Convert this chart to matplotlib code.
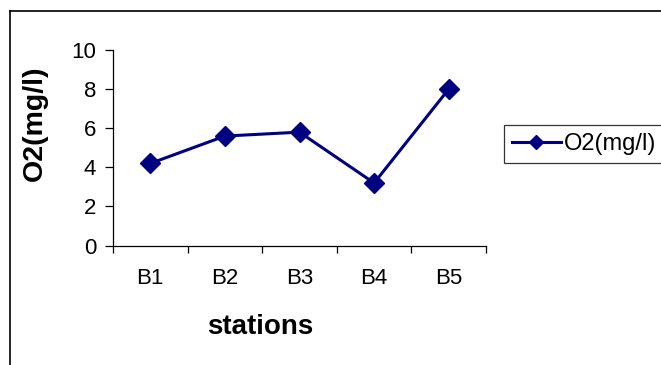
import numpy as np
import matplotlib
matplotlib.use("Agg")
import matplotlib.pyplot as plt
from matplotlib.lines import Line2D

# data
stations = ["B1", "B2", "B3", "B4", "B5"]
o2 = [4.2, 5.6, 5.8, 3.2, 8.0]
yticks = [0, 2, 4, 6, 8, 10]

plt.rcParams['font.family'] = ['Liberation Sans', 'DejaVu Sans']

W, H = 661, 365
fig = plt.figure(figsize=(W / 100, H / 100), dpi=100)

# plot area in pixels: left 113, right 486, top 50, bottom 245.6
ax = fig.add_axes([113 / W, 1 - 245.6 / H, (486 - 113) / W, (245.6 - 50) / H])

x = np.arange(len(stations))
ax.plot(x, o2, color="#000080", lw=2.2, marker="D", ms=10,
        mfc="#000080", mec="#000080", label="O2(mg/l)", clip_on=False)

ax.set_xlim(-0.5, len(stations) - 0.5)
ax.set_ylim(0, 10)
ax.set_yticks(yticks)
ax.set_xticks(x, labels=stations)
ax.set_xticks(np.arange(-0.5, len(stations)), minor=True)

for s in ["top", "right"]:
    ax.spines[s].set_visible(False)
for s in ["left", "bottom"]:
    ax.spines[s].set_color("black")
    ax.spines[s].set_linewidth(0.9)

ax.tick_params(axis="y", direction="out", length=6, width=0.9, pad=6, labelsize=16)
ax.tick_params(axis="x", which="major", length=0, pad=16, labelsize=16)
ax.tick_params(axis="x", which="minor", direction="out", length=5, width=0.9)

fig.text(35 / W, 1 - 123 / H, "O2(mg/l)", rotation=90, ha="center", va="center",
         fontsize=20.5, fontweight="bold")
fig.text(260 / W, 1 - 334 / H, "stations", ha="center", va="baseline",
         fontsize=20, fontweight="bold")

leg = fig.legend(loc="center left", bbox_to_anchor=(504 / W, 1 - 144 / H),
                 fontsize=17, frameon=True, fancybox=False, shadow=False,
                 borderpad=0.35, handlelength=2.05, handletextpad=0.15,
                 borderaxespad=0, markerscale=0.7)
leg.get_frame().set_edgecolor("black")
leg.get_frame().set_linewidth(0.9)

# outer chart border (left and top visible)
fig.add_artist(Line2D([10 / W, 10 / W], [0, 1 - 11 / H], color="black", lw=1.2,
                      transform=fig.transFigure))
fig.add_artist(Line2D([10 / W, 1], [1 - 11 / H, 1 - 11 / H], color="black", lw=1.2,
                      transform=fig.transFigure))

fig.savefig("out.png", dpi=100)
